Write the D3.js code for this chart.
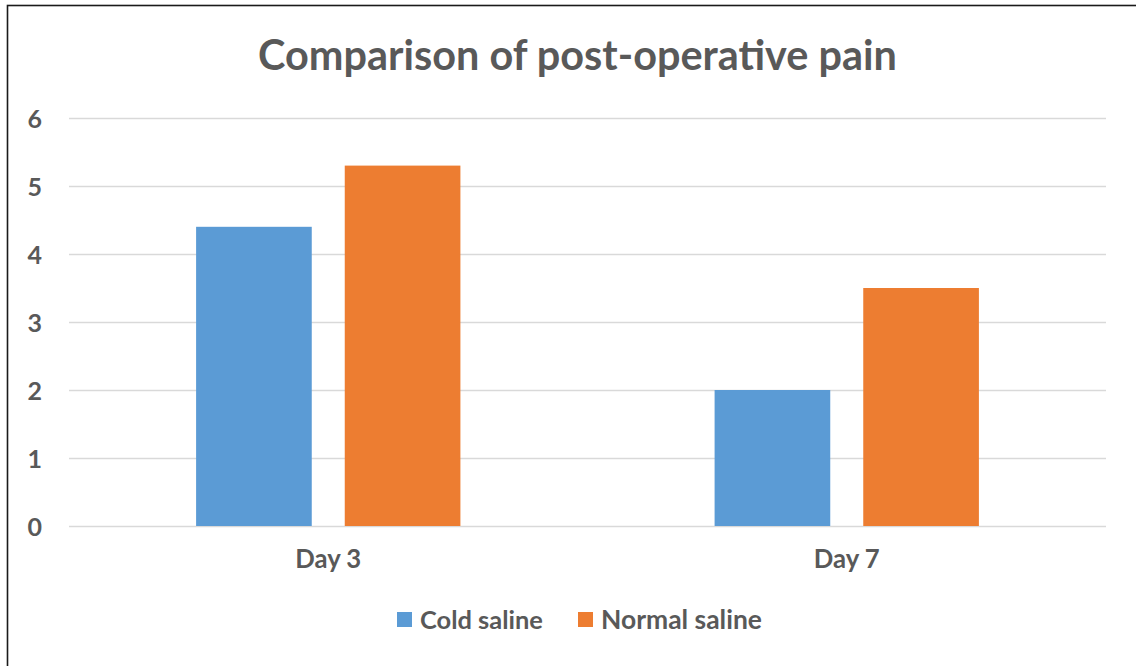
<!DOCTYPE html>
<html>
<head>
<meta charset="utf-8">
<script src="https://cdn.jsdelivr.net/npm/d3@7"></script>
<style>
  html, body { margin: 0; padding: 0; background: #fff; }
  svg { display: block; }
  text { font-family: Lato, "Open Sans", sans-serif; fill: #595959; }
</style>
</head>
<body>
<script>
const title = "Comparison of post-operative pain";
const categories = ["Day 3", "Day 7"];
const seriesNames = ["Cold saline", "Normal saline"];
const coldSaline = [4.4, 2.0];
const normalSaline = [5.3, 3.5];
const yTicks = [0, 1, 2, 3, 4, 5, 6];
const colors = ["#5B9BD5", "#ED7D31"];

const W = 1136, H = 666;
const plot = { left: 69, right: 1106, top: 118, bottom: 526 };

const svg = d3.select("body").append("svg").attr("width", W).attr("height", H);
svg.append("rect").attr("width", W).attr("height", H).attr("fill", "#fff");
svg.append("rect").attr("x", 7.5).attr("y", 5.5).attr("width", W).attr("height", H)
  .attr("fill", "none").attr("stroke", "#1a1a1a").attr("stroke-width", 1.6);

const fitText = (sel, target) => {
  const node = sel.node();
  const fs = parseFloat(sel.attr("font-size"));
  const w = node.getComputedTextLength();
  sel.attr("font-size", (fs * target / w).toFixed(2));
};

// title
const t = svg.append("text").attr("x", 577.5).attr("y", 70).attr("text-anchor", "middle")
  .attr("font-size", 36).attr("font-weight", 700).text(title);
fitText(t, 639);

const y = d3.scaleLinear().domain([0, 6]).range([plot.bottom, plot.top]);
const x0 = d3.scaleBand().domain(categories).range([plot.left, plot.right]).padding(0);
const x1 = d3.scaleBand().domain(seriesNames).range([0, x0.bandwidth()])
  .paddingInner(0.222).paddingOuter(0.855);

// grid + y labels
const yAxis = d3.axisLeft(y).tickValues(yTicks).tickSize(-(plot.right - plot.left)).tickPadding(27)
  .tickFormat(d3.format("d"));
const ga = svg.append("g").attr("transform", `translate(${plot.left},0)`).call(yAxis);
ga.select(".domain").remove();
ga.selectAll(".tick line").attr("stroke", "#d9d9d9").attr("stroke-width", 1.5);
ga.selectAll(".tick text").attr("font-size", 25).attr("font-weight", 700)
  .attr("fill", "#595959").attr("font-family", "Lato, sans-serif").attr("dy", "0.36em");

// bars
const data = categories.map((c, i) => ({ cat: c, vals: [
  { s: seriesNames[0], v: coldSaline[i] },
  { s: seriesNames[1], v: normalSaline[i] }] }));

const groups = svg.append("g").selectAll("g").data(data).join("g")
  .attr("transform", d => `translate(${x0(d.cat)},0)`);
groups.selectAll("rect").data(d => d.vals).join("rect")
  .attr("x", d => x1(d.s))
  .attr("width", x1.bandwidth())
  .attr("y", d => y(d.v))
  .attr("height", d => y(0) - y(d.v))
  .attr("fill", (d, i) => colors[i]);

// category labels
svg.append("g").selectAll("text").data(categories).join("text")
  .attr("x", d => x0(d) + x0.bandwidth() / 2)
  .attr("y", 568)
  .attr("text-anchor", "middle")
  .attr("font-size", 22).attr("font-weight", 700)
  .text(d => d)
  .each(function () { fitText(d3.select(this), 66); });

// legend
const legendTextWidths = [123, 161];
const legendStarts = [397, 578];
const items = svg.append("g").selectAll("g").data(seriesNames).join("g")
  .attr("transform", (d, i) => `translate(${legendStarts[i]},0)`);
items.append("rect").attr("width", 15).attr("height", 15).attr("y", 612)
  .attr("fill", (d, i) => colors[i]);
items.append("text").attr("x", 23).attr("y", 629).attr("font-size", 22).attr("font-weight", 700)
  .text(d => d)
  .each(function (d, i) { fitText(d3.select(this), legendTextWidths[i]); });
</script>
</body>
</html>
